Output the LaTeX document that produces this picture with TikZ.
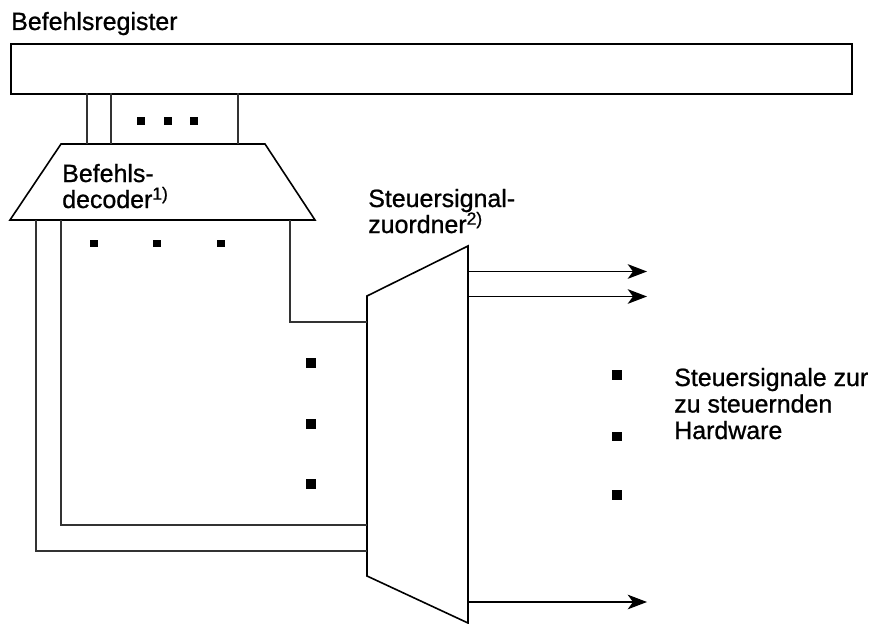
\documentclass[tikz,border=0pt]{standalone}
\usepackage{fontspec}
\setmainfont{Liberation Sans}
\newfontfamily\lblfont{Liberation Sans}[FakeBold=0.9]
\usetikzlibrary{arrows.meta}
\begin{document}
\begin{tikzpicture}[x=0.75pt,y=-0.75pt,
  outline/.style={draw=black,line width=1.2pt,line join=miter},
  wire/.style={draw=black!80,line width=0.8pt},
  sig/.style={draw=black,line width=0.9pt,-{Stealth[length=14.5pt,width=11pt,inset=4pt]}},
  dotS/.style={fill=black,draw=none,minimum size=5.6pt,inner sep=0pt,rectangle},
  dotL/.style={fill=black,draw=none,minimum size=6.8pt,inner sep=0pt,rectangle},
  lbl/.style={font=\lblfont\fontsize{18.7}{21}\selectfont,inner sep=0pt,anchor=base west}]
\useasboundingbox (0,0) rectangle (874,624);

% labels
\node[lbl] (t1) at (11,30) {Befehlsregister};
\node[lbl] (t2) at (62,182) {Befehls-};
\node[lbl] (t3) at (62,208) {decoder\textsuperscript{1)}};
\node[lbl] (t4) at (368,207) {Steuersignal-};
\node[lbl] (t5) at (368,233) {zuordner\textsuperscript{2)}};
\node[lbl] (t6) at (674,386) {Steuersignale zur};
\node[lbl] (t7) at (674,412.5) {zu steuernden};
\node[lbl] (t8) at (674,439) {Hardware};

% register
\node[outline,rectangle,anchor=north west,inner sep=0pt,
      minimum width=630.75pt,minimum height=37.5pt] (reg) at (10,43) {};

% decoder trapezoid
\coordinate (dtl) at (61,144);
\coordinate (dtr) at (265,144);
\coordinate (dbr) at (315,220);
\coordinate (dbl) at (10,220);
\draw[outline] (dtl) -- (dtr) -- (dbr) -- (dbl) -- cycle;

% multiplexer (Steuersignalzuordner)
\coordinate (mtl) at (367,296);
\coordinate (mtr) at (468,246);
\coordinate (mbr) at (468,623);
\coordinate (mbl) at (367,576);
\draw[outline] (mtl) -- (mtr) -- (mbr) -- (mbl) -- cycle;

% wires register -> decoder
\coordinate (ra) at (87,93);  \coordinate (da) at (87,144);
\coordinate (rb) at (111,93); \coordinate (db) at (111,144);
\coordinate (rc) at (238,93); \coordinate (dc) at (238,144);
\draw[wire] (ra) -- (da);
\draw[wire] (rb) -- (db);
\draw[wire] (rc) -- (dc);

% wires decoder -> multiplexer
\coordinate (o1) at (36,220);  \coordinate (c1) at (36,551);  \coordinate (m1) at (367,551);
\coordinate (o2) at (61,220);  \coordinate (c2) at (61,525);  \coordinate (m2) at (367,525);
\coordinate (o3) at (290,220); \coordinate (c3) at (290,322); \coordinate (m3) at (367,322);
\draw[wire] (o1) -- (c1) -- (m1);
\draw[wire] (o2) -- (c2) -- (m2);
\draw[wire] (o3) -- (c3) -- (m3);

% output arrows
\coordinate (s1) at (468,271.5); \coordinate (e1) at (647,271.5);
\coordinate (s2) at (468,296.5); \coordinate (e2) at (647,296.5);
\coordinate (s3) at (468,602);   \coordinate (e3) at (647,602);
\draw[sig] (s1) -- (e1);
\draw[sig] (s2) -- (e2);
\draw[sig] (s3) -- (e3);

% dots
\node[dotS] (p1) at (141,121) {};
\node[dotS] (p2) at (168,121) {};
\node[dotS] (p3) at (194,121) {};
\node[dotS] (q1) at (94,243.5) {};
\node[dotS] (q2) at (157,243.5) {};
\node[dotS] (q3) at (221,243.5) {};
\node[dotL] (u1) at (311,363) {};
\node[dotL] (u2) at (311,424) {};
\node[dotL] (u3) at (311,484) {};
\node[dotL] (v1) at (617,375) {};
\node[dotL] (v2) at (617,436.5) {};
\node[dotL] (v3) at (617,495) {};
\end{tikzpicture}
\end{document}
